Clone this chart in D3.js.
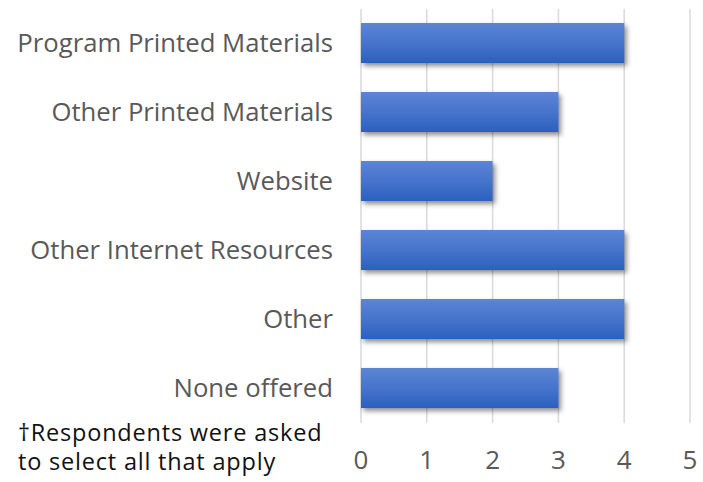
<!DOCTYPE html>
<html><head><meta charset="utf-8">
<script src="https://cdn.jsdelivr.net/npm/d3@7"></script>
<style>body{margin:0;background:#fff}svg{display:block}</style>
</head><body>
<svg id="c" width="703" height="482"></svg>
<script>
const categories = ["Program Printed Materials","Other Printed Materials","Website","Other Internet Resources","Other","None offered"];
const values = [4,3,2,4,4,3];
const ticks = [0,1,2,3,4,5];
const footnote = ["\u2020Respondents were asked","to select all that apply"];

const svg = d3.select("#c");
const FONT = "'Open Sans', sans-serif";
const x = d3.scaleLinear().domain([0,5]).range([361,690]);
const y = d3.scaleBand().domain(categories).range([8.5,422.5]).paddingInner(0.42).paddingOuter(0.21);

const defs = svg.append("defs");
const g = defs.append("linearGradient").attr("id","bg").attr("x1",0).attr("y1",0).attr("x2",0).attr("y2",1);
g.append("stop").attr("offset","0%").attr("stop-color","#5c85d4");
g.append("stop").attr("offset","50%").attr("stop-color","#4674cc");
g.append("stop").attr("offset","100%").attr("stop-color","#2c60bd");
const f = defs.append("filter").attr("id","sh").attr("x","-10%").attr("y","-30%").attr("width","130%").attr("height","180%");
f.append("feDropShadow").attr("dx",2.5).attr("dy",3).attr("stdDeviation",2.5).attr("flood-color","#000").attr("flood-opacity",0.45);

svg.append("g").selectAll("line").data(ticks).join("line")
  .attr("x1",d=>x(d)).attr("x2",d=>x(d)).attr("y1",9).attr("y2",423)
  .attr("stroke","#d9d9d9").attr("stroke-width",1.5);

svg.append("g").selectAll("rect").data(values).join("rect")
  .attr("x",x(0)).attr("y",(d,i)=>y(categories[i]))
  .attr("width",d=>x(d)-x(0)).attr("height",y.bandwidth())
  .attr("fill","url(#bg)").attr("filter","url(#sh)");

svg.append("g").selectAll("text").data(categories).join("text")
  .attr("x",333).attr("y",d=>y(d)+y.bandwidth()/2).attr("dy","0.35em")
  .attr("text-anchor","end").attr("font-family",FONT).attr("font-size",25.7)
  .attr("fill","#595959").text(d=>d);

svg.append("g").selectAll("text").data(ticks).join("text")
  .attr("x",d=>x(d)).attr("y",469).attr("text-anchor","middle")
  .attr("font-family",FONT).attr("font-size",26).attr("fill","#595959").text(d=>d);

svg.append("g").selectAll("text").data(footnote).join("text")
  .attr("x",18).attr("y",(d,i)=>441+i*29)
  .attr("font-family",FONT).attr("font-size",23.5).attr("letter-spacing",0.8)
  .attr("fill","#111").text(d=>d);
</script>
</body></html>
